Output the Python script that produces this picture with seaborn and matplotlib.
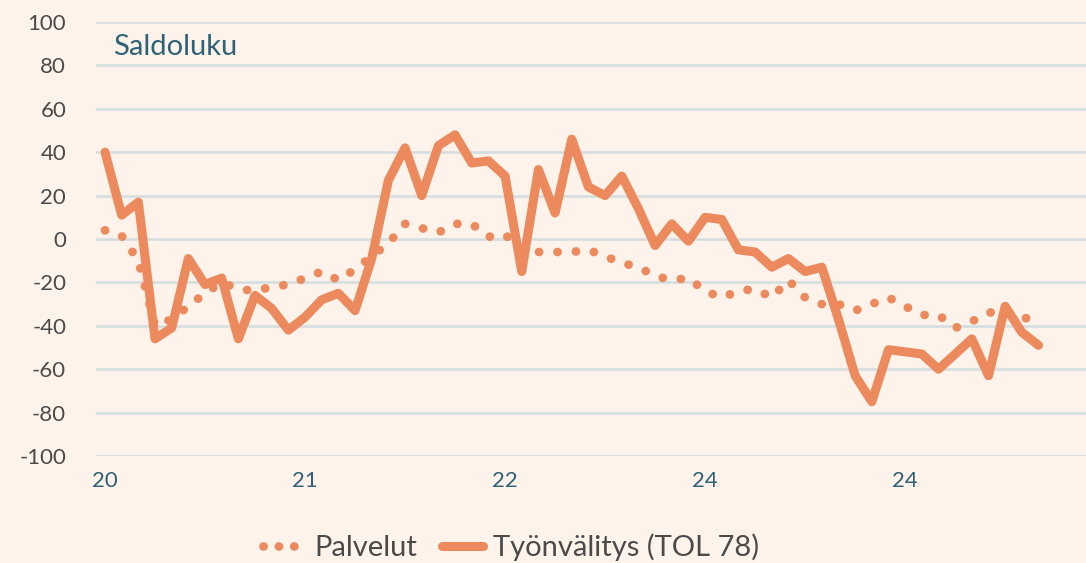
import numpy as np
import pandas as pd
import matplotlib.pyplot as plt
import seaborn as sns
from matplotlib.lines import Line2D

# monthly balance figures, Jan 2020 - Sep 2024
palvelut = [4, 1.5, -10, -40, -37, -31, -25, -20, -23, -24, -22, -21,
            -18, -15, -19, -14, -8, -2, 7, 5, 3, 7, 7, 1,
            2, -5, -6, -6, -6, -5, -8, -11, -13, -17, -19, -18,
            -24, -27, -24, -23, -27, -19, -27, -30, -30, -33, -30, -27,
            -31, -35, -35, -41, -38, -34, -33, -36, -38]
tyonvalitys = [40, 11, 17, -46, -41, -9, -21, -18, -46, -26, -32, -42,
               -36, -28, -25, -33, -9, 27, 42, 20, 43, 48, 35, 36,
               29, -15, 32, 12, 46, 24, 20, 29, 14, -3, 7, -1,
               10, 9, -5, -6, -13, -9, -15, -13, -37, -63, -75, -51,
               -52, -53, -60, -53, -46, -63, -31, -43, -49]
tick_months = [0, 12, 24, 36, 48]
tick_labels = ["20", "21", "22", "24", "24"]
y_ticks = list(range(-100, 101, 20))

df = pd.DataFrame({
    'Month': range(len(tyonvalitys)),
    'Palvelut': palvelut,
    'Työnvälitys (TOL 78)': tyonvalitys,
})

bg = '#fdf3ea'
orange = '#ec895d'
teal = '#2f6177'
grey = '#4a4a4a'
dot_lw = 6.3

sns.set_style("white")
plt.rcParams['font.family'] = ['Lato', 'DejaVu Sans']

fig = plt.figure(figsize=(10.86, 5.63), dpi=100, facecolor=bg)
ax = fig.add_axes([96 / 1086, 1 - 456 / 563, 1 - 96 / 1086, (456 - 22) / 563])
ax.set_facecolor(bg)

sns.lineplot(data=df, x='Month', y='Palvelut', ax=ax, color=orange,
             linewidth=dot_lw)
sns.lineplot(data=df, x='Month', y='Työnvälitys (TOL 78)', ax=ax, color=orange,
             linewidth=6.5)
dotted, solid = ax.lines[0], ax.lines[1]
dotted.set_linestyle((0, (0.01, 2.1)))
dotted.set_dash_capstyle('round')
solid.set_solid_capstyle('round')
solid.set_solid_joinstyle('round')

ax.set_xlim(-9 / 16.67, (1086 - 105) / 16.67)
ax.set_ylim(-100, 100)
ax.set_yticks(y_ticks)
ax.set_yticklabels([str(v) for v in y_ticks])
ax.set_xticks(tick_months)
ax.set_xticklabels(tick_labels)
ax.tick_params(axis='y', colors=grey, labelsize=16, length=0, pad=21.5)
ax.tick_params(axis='x', colors=teal, labelsize=16, length=0, pad=11)
ax.grid(axis='y', color='#d6dfdf', linewidth=2)
ax.grid(axis='x', visible=False)
ax.set_axisbelow(True)
for s in ax.spines.values():
    s.set_visible(False)
ax.set_xlabel('')
ax.set_ylabel('')

fig.text(113 / 1086, 1 - 47 / 563, 'Saldoluku', color=teal, fontsize=21,
         va='center', ha='left')

handles = [
    Line2D([], [], color=orange, linewidth=dot_lw, linestyle=(0, (0.01, 1.75)),
           dash_capstyle='round'),
    Line2D([], [], color=orange, linewidth=6.5, solid_capstyle='round'),
]
fig.legend(handles, ['Palvelut', 'Työnvälitys (TOL 78)'], loc='center',
           bbox_to_anchor=(511 / 1086, 1 - 547 / 563), ncol=2, frameon=False,
           fontsize=21, labelcolor=grey, handlelength=1.4,
           handletextpad=0.35, columnspacing=0.85)

fig.savefig('out.png', dpi=100, facecolor=bg)
